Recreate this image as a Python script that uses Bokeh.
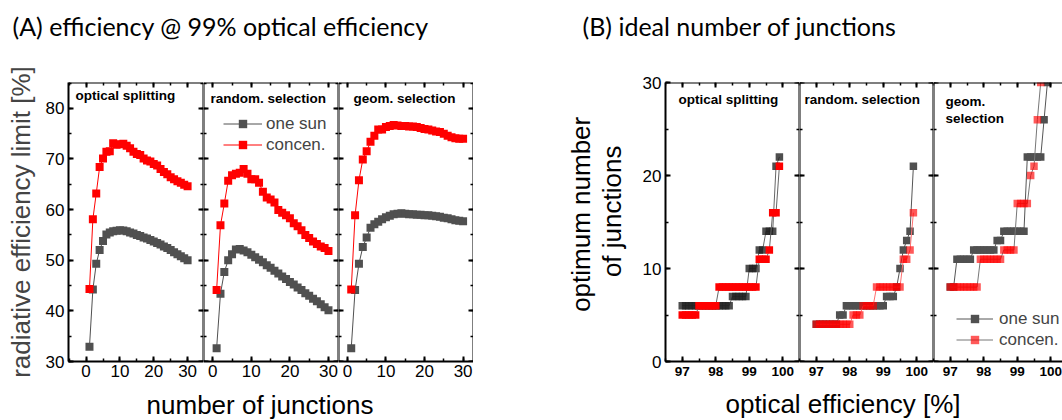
import math
from bokeh.plotting import figure
from bokeh.layouts import row, column
from bokeh.models import (Range1d, LinearAxis, SingleIntervalTicker, Label, Legend, LegendItem,
                          CustomLabelingPolicy)
from bokeh.embed import file_html
from bokeh.resources import INLINE

# ---------------- data (A): efficiency @ 99% optical efficiency ----------------
junctions = list(range(1, 31))
a_split_sun = [32.9, 44.2, 49.3, 52.0, 53.8, 55.1, 55.5, 55.7, 55.8, 55.9, 55.85, 55.7, 55.5, 55.3, 55.0,
               54.8, 54.5, 54.3, 54.0, 53.7, 53.4, 53.1, 52.7, 52.4, 52.0, 51.6, 51.2, 50.8, 50.4, 50.0]
a_split_con = [44.3, 58.1, 63.2, 68.4, 70.1, 71.4, 71.5, 73.1, 72.8, 72.9, 73.0, 72.6, 72.1, 71.4, 71.0,
               70.8, 70.1, 69.7, 69.5, 69.0, 68.7, 68.0, 67.4, 67.0, 66.4, 66.0, 65.6, 65.3, 64.9, 64.6]
a_rand_sun = [32.6, 43.4, 47.7, 50.0, 51.2, 52.1, 52.2, 51.9, 51.6, 51.1, 50.6, 50.1, 49.6, 49.0, 48.5,
              47.9, 47.4, 46.8, 46.3, 45.7, 45.2, 44.6, 44.1, 43.5, 43.0, 42.4, 41.9, 41.3, 40.7, 40.1]
a_rand_con = [44.1, 56.9, 61.2, 65.7, 66.8, 67.1, 67.3, 68.0, 67.1, 66.0, 66.0, 65.3, 63.5, 62.4, 62.0,
              61.4, 59.9, 59.4, 58.9, 58.3, 57.3, 56.7, 55.9, 55.0, 54.4, 53.7, 53.2, 52.7, 52.4, 51.8]
a_geom_sun = [32.6, 44.1, 49.3, 52.6, 54.5, 56.4, 57.1, 57.6, 58.1, 58.5, 58.8, 59.1, 59.2, 59.3, 59.2,
              59.1, 59.1, 59.0, 59.0, 58.9, 58.9, 58.8, 58.7, 58.6, 58.4, 58.3, 58.1, 57.9, 57.8, 57.7]
a_geom_con = [44.2, 58.9, 65.8, 69.9, 71.5, 73.4, 74.6, 75.8, 75.8, 76.3, 76.5, 76.7, 76.6, 76.5, 76.5,
              76.4, 76.4, 76.3, 76.1, 75.9, 75.8, 75.6, 75.4, 75.3, 75.0, 74.6, 74.3, 74.1, 74.0, 74.0]

# ---------------- data (B): ideal number of junctions ----------------
opt_eff = [97.0, 97.1, 97.2, 97.3, 97.4, 97.5, 97.6, 97.7, 97.8, 97.9,
           98.0, 98.1, 98.2, 98.3, 98.4, 98.5, 98.6, 98.7, 98.8, 98.9,
           99.0, 99.1, 99.2, 99.3, 99.4, 99.5, 99.6, 99.7, 99.8, 99.9]
b_split_sun = [6, 6, 6, 6, 6, 6, 6, 6, 6, 6, 6, 6, 6, 6, 6, 7, 7, 7, 7, 7, 10, 10, 10, 12, 12, 14, 14, 14, 21, 22]
b_split_con = [5, 5, 5, 5, 5, 6, 6, 6, 6, 6, 6, 8, 8, 8, 8, 8, 8, 8, 8, 8, 8, 8, 8, 11, 11, 11, 12, 16, 16, 21]
b_rand_sun = [4, 4, 4, 4, 4, 4, 4, 5, 5, 6, 6, 6, 6, 6, 6, 6, 6, 6, 6, 6, 6, 7, 7, 7, 8, 10, 12, 13, 14, 21]
b_rand_con = [4, 4, 4, 4, 4, 4, 4, 4, 4, 4, 4, 5, 5, 5, 6, 6, 6, 6, 8, 8, 8, 8, 8, 8, 8, 8, 11, 11, 12, 16]
b_geom_sun = [8, 8, 11, 11, 11, 11, 11, 12, 12, 12, 12, 12, 12, 12, 13, 13, 14, 14, 14, 14, 14, 14, 14,
              22, 22, 22, 22, 22, 26, 30]
b_geom_con = [8, 8, 8, 8, 8, 8, 8, 8, 8, 11, 11, 11, 11, 11, 11, 11, 12, 12, 12, 12, 17, 17, 17, 17,
              20, 21, 26, 30]

FONT = "Liberation Sans"
GRAY = "#505050"
RED = "#ff0000"
TOP = 60       # height of header strip
ROW_H = 327    # height of panel row
FOOT = 33


def no_title(p):
    p.title = None
    return p


def new_panel(width, xr, yr, left, top, bottom):
    p = figure(width=width, height=ROW_H, x_range=Range1d(*xr), y_range=Range1d(*yr),
               output_backend="svg", toolbar_location=None,
               x_axis_location=None, y_axis_location=None,
               min_border_left=left, min_border_right=0,
               min_border_top=top, min_border_bottom=bottom)
    no_title(p)
    p.outline_line_color = None
    p.background_fill_color = "white"
    p.border_fill_color = "white"
    for g in p.grid:
        g.visible = False
    return p


def style(ax, font_size="17px", bold=False, hidden=False, standoff=4):
    ax.axis_line_width = 2
    ax.axis_line_color = "black"
    ax.major_tick_in = 5
    ax.major_tick_out = 0
    ax.minor_tick_in = 3
    ax.minor_tick_out = 0
    ax.major_tick_line_width = 2
    ax.minor_tick_line_width = 1.5
    ax.major_label_text_font = FONT
    ax.major_label_text_color = "black"
    ax.major_label_standoff = standoff
    ax.major_label_text_font_style = "bold" if bold else "normal"
    ax.major_label_text_font_size = font_size
    if hidden:
        ax.major_label_policy = CustomLabelingPolicy(code="return new Set()")


def add_axes(p, xr, yr, xint, yint, ylabels, xfont, yfont, xbold, right=True, ylabel=None):
    bx = LinearAxis(ticker=SingleIntervalTicker(interval=xint, num_minor_ticks=2))
    style(bx, xfont, xbold, standoff=3 if not xbold else 5)
    p.add_layout(bx, "below")
    tx = LinearAxis(ticker=SingleIntervalTicker(interval=xint, num_minor_ticks=2), fixed_location=yr[1])
    style(tx, hidden=True)
    p.add_layout(tx, "above")
    if ylabels:
        ly = LinearAxis(ticker=SingleIntervalTicker(interval=yint, num_minor_ticks=2))
        style(ly, yfont)
        if ylabel:
            ly.axis_label = ylabel
            ly.axis_label_text_font = FONT
            ly.axis_label_text_font_size = "26px"
            ly.axis_label_text_font_style = "normal"
            ly.axis_label_standoff = 7
    else:
        ly = LinearAxis(ticker=SingleIntervalTicker(interval=yint, num_minor_ticks=2), fixed_location=xr[0])
        style(ly, hidden=True)
    p.add_layout(ly, "left")
    if right:
        ry = LinearAxis(ticker=SingleIntervalTicker(interval=yint, num_minor_ticks=2), fixed_location=xr[1])
        style(ry, hidden=True)
        p.add_layout(ry, "right")


def panel_label(p, text, x, y, size="13.5px"):
    p.add_layout(Label(x=x, y=y, x_units="screen", y_units="screen", text=text,
                       text_font=FONT, text_font_size=size, text_font_style="bold",
                       text_baseline="middle", text_color="black"))


# ---------------- panels (A) ----------------
A_Y = (30, 85.1)
a_specs = [
    ("optical splitting", a_split_sun, a_split_con, 203, (-5.2, 34.7), 68, 7, 266),
    ("random. selection", a_rand_sun, a_rand_con, 135, (-2.4, 32.6), 0, 7, 263),
    ("geom. selection", a_geom_sun, a_geom_con, 135, (-2.3, 32.7), 0, 15, 263),
]
a_figs = []
for i, (name, sun, con, w, xr, left, lx, ly) in enumerate(a_specs):
    p = new_panel(w, xr, A_Y, left, 22, 24)
    add_axes(p, xr, A_Y, 10, 10, i == 0, "17px", "17px", False,
             ylabel="radiative efficiency limit [%]" if i == 0 else None)
    l1 = p.line(junctions, sun, line_color=GRAY, line_width=1)
    s1 = p.scatter(junctions, sun, marker="square", size=8, fill_color=GRAY, line_color=None)
    l2 = p.line(junctions, con, line_color=RED, line_width=1)
    s2 = p.scatter(junctions, con, marker="square", size=8, fill_color=RED, line_color=None)
    panel_label(p, name, lx, ly)
    if i == 1:
        lg = Legend(items=[LegendItem(label="one sun", renderers=[l1, s1]),
                           LegendItem(label="concen.", renderers=[l2, s2])],
                    location=(20, 206), glyph_width=39, glyph_height=21, label_height=21,
                    label_standoff=4, spacing=0, padding=0, margin=0,
                    border_line_color=None, background_fill_alpha=0,
                    label_text_font=FONT, label_text_font_size="17px")
        p.add_layout(lg)
    a_figs.append(p)

# ---------------- spacer with (B) y title ----------------
sp = figure(width=162, height=ROW_H, x_range=Range1d(0, 162), y_range=Range1d(0, ROW_H),
            output_backend="svg", toolbar_location=None, x_axis_location=None, y_axis_location=None,
            min_border=0, min_border_left=0, min_border_right=0, min_border_top=0, min_border_bottom=0)
no_title(sp)
sp.outline_line_color = None
for g in sp.grid:
    g.visible = False
for txt, x, y in [("optimum number", 107, 172.5), ("of junctions", 138, 176)]:
    sp.add_layout(Label(x=x, y=y, text=txt, angle=math.pi / 2, text_align="center",
                        text_baseline="middle", text_font=FONT, text_font_size="26px", text_color="black"))

# ---------------- panels (B) ----------------
B_Y = (0, 30)
b_specs = [
    ("optical splitting", b_split_sun, b_split_con, 164, (96.5, 100.5), 30, True),
    ("random. selection", b_rand_sun, b_rand_con, 134, (96.5, 100.5), 0, True),
    ("geom. selection", b_geom_sun, b_geom_con, 129, (96.5, 100.35), 0, False),
]
b_figs = []
for i, (name, sun, con, w, xr, left, right) in enumerate(b_specs):
    p = new_panel(w, xr, B_Y, left, 21, 26)
    add_axes(p, xr, B_Y, 1, 10, i == 0, "13.5px", "17px", True, right=right)
    xs_con = opt_eff[:len(con)]
    if i == 0:
        l1 = p.line(opt_eff, sun, line_color="#666666", line_width=1)
        s1 = p.scatter(opt_eff, sun, marker="square", size=7.5, fill_color="#222222",
                       fill_alpha=0.8, line_color=None)
        l2 = p.line(xs_con, con, line_color="#666666", line_width=1)
        s2 = p.scatter(xs_con, con, marker="square", size=7.5, fill_color=RED, line_color=None)
    else:
        l1 = p.line(opt_eff, sun, line_color="#555555", line_width=1)
        s1 = p.scatter(opt_eff, sun, marker="square", size=7.5, fill_color=GRAY, line_color=None)
        l2 = p.line(xs_con, con, line_color="#ff7070" if i == 1 else "#777777", line_width=1)
        s2 = p.scatter(xs_con, con, marker="square", size=7.5, fill_color=RED, fill_alpha=0.65,
                       line_color=None)
    if i == 0:
        panel_label(p, name, 13, 261.7)
    elif i == 1:
        panel_label(p, name, 5, 261.7)
    else:
        panel_label(p, "geom.", 12, 260.3)
        panel_label(p, "selection", 12, 242.7)
        lg = Legend(items=[LegendItem(label="one sun", renderers=[l1, s1]),
                           LegendItem(label="concen.", renderers=[l2, s2])],
                    location=(23, 11), glyph_width=37, glyph_height=21, label_height=21,
                    label_standoff=6, spacing=0, padding=0, margin=0,
                    border_line_color=None, background_fill_alpha=0,
                    label_text_font=FONT, label_text_font_size="17px")
        p.add_layout(lg)
    b_figs.append(p)

# ---------------- header & footer ----------------
def strip(h):
    f = figure(width=1062, height=h, x_range=Range1d(0, 1062), y_range=Range1d(0, h),
               output_backend="svg", toolbar_location=None, x_axis_location=None, y_axis_location=None,
               min_border=0, min_border_left=0, min_border_right=0, min_border_top=0, min_border_bottom=0)
    no_title(f)
    f.outline_line_color = None
    for g in f.grid:
        g.visible = False
    return f

header = strip(TOP)
header.add_layout(Label(x=12, y=35, text="(A) efficiency @ 99% optical efficiency", text_font="Lato",
                        text_font_size="25px", text_baseline="middle", text_color="black"))
header.add_layout(Label(x=582, y=35, text="(B) ideal number of junctions", text_font="Lato",
                        text_font_size="25px", text_baseline="middle", text_color="black"))

footer = strip(FOOT)
footer.add_layout(Label(x=259.5, y=16, text="number of junctions", text_align="center", text_font=FONT,
                        text_font_size="26px", text_baseline="middle", text_color="black"))
footer.add_layout(Label(x=842.5, y=17, text="optical efficiency [%]", text_align="center", text_font=FONT,
                        text_font_size="26px", text_baseline="middle", text_color="black"))

layout = column(header, row(*a_figs, sp, *b_figs, spacing=0), footer, spacing=0)
open("out.html", "w").write(file_html(layout, INLINE))
